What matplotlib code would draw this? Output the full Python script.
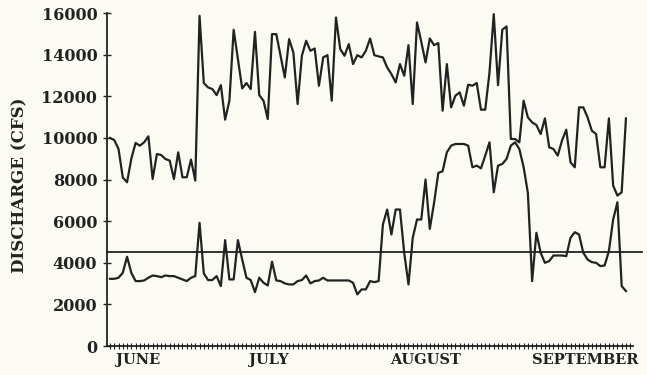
import matplotlib.pyplot as plt
import numpy as np

# daily discharge, June 1 - September 30 (cfs)
upper_flow = [
    10000, 9900, 9470, 8100, 7870, 9000, 9760, 9630, 9790, 10080,
    8030, 9230, 9180, 8990, 8910, 8030, 9310, 8110, 8110, 8960,
    7950, 15870, 12640, 12430, 12350, 12060, 12540, 10880, 11790, 15200,
    13790, 12380, 12640, 12350, 15100, 12060, 11790, 10910, 14990, 14990,
    13950, 12910, 14750, 14110, 11630, 13950, 14670, 14190, 14300, 12510,
    13870, 13980, 11790, 15790, 14270, 13950, 14510, 13550, 13980, 13870,
    14190, 14780, 13980, 13920, 13870, 13390, 13070, 12670, 13550, 12990,
    14460, 11630, 15550, 14620, 13630, 14780, 14460, 14560, 11310, 13550,
    11470, 12030, 12190, 11550, 12560, 12510, 12640, 11360, 11360, 13150,
    15950, 12540, 15200, 15360, 9950, 9950, 9790, 11790, 10990, 10750,
    10620, 10190, 10940, 9550, 9470, 9150, 9870, 10400, 8830, 8590,
    11470, 11470, 10990, 10350, 10190, 8590, 8590, 10940, 7710, 7230,
    7390, 10940,
]
lower_flow = [
    3230, 3230, 3280, 3520, 4290, 3520, 3120, 3120, 3150, 3280,
    3390, 3360, 3310, 3390, 3360, 3360, 3280, 3200, 3120, 3280,
    3360, 5920, 3490, 3170, 3170, 3360, 2880, 5090, 3200, 3200,
    5090, 4160, 3280, 3170, 2590, 3280, 3040, 2910, 4050, 3150,
    3120, 3010, 2960, 2960, 3120, 3170, 3390, 3010, 3120, 3150,
    3280, 3150, 3150, 3150, 3150, 3150, 3150, 3040, 2480, 2720,
    2720, 3120, 3070, 3120, 5840, 6560, 5360, 6560, 6560, 4480,
    2960, 5200, 6080, 6080, 8000, 5630, 6880, 8320, 8400, 9310,
    9630, 9710, 9710, 9710, 9630, 8590, 8670, 8540, 9150, 9790,
    7390, 8670, 8750, 8990, 9630, 9790, 9470, 8600, 7360, 3120,
    5440, 4480, 4000, 4080, 4350, 4350, 4350, 4320, 5200, 5470,
    5360, 4480, 4160, 4030, 4000, 3840, 3870, 4560, 6080, 6910,
    2880, 2640,
]
threshold = 4500
months = ["JUNE", "JULY", "AUGUST", "SEPTEMBER"]
month_pos = [6.6, 37.3, 73.9, 111.5]

days = np.arange(len(upper_flow))
ink = "#222222"
paper = "#fbfbf4"
serif = {"family": "DejaVu Serif", "weight": "bold"}

fig = plt.figure(figsize=(6.47, 3.75), dpi=100, facecolor=paper)
ax = fig.add_axes([0.1654, 0.0773, 0.8126, 0.8877], facecolor=paper)

ax.plot(days, upper_flow, color=ink, lw=1.6)
ax.plot(days, lower_flow, color=ink, lw=1.6)
ax.plot([-0.7, 124.7], [threshold, threshold], color=ink, lw=1.3, clip_on=False)

ax.set_xlim(-0.7, 122.6)
ax.set_ylim(0, 16000)
ax.set_yticks(np.arange(0, 16001, 2000))
ax.set_yticklabels([str(v) for v in range(0, 16001, 2000)], fontdict=serif, fontsize=11.5)
ax.set_xticks(month_pos)
ax.set_xticklabels(months, fontdict=serif, fontsize=10.5)
ax.set_xticks(np.arange(0, 123), minor=True)

ax.tick_params(axis="x", which="major", length=0, pad=5, colors=ink)
ax.tick_params(axis="x", which="minor", direction="inout", length=4, width=0.8, color=ink)
ax.tick_params(axis="y", direction="inout", length=6, width=1, pad=4, colors=ink)

for side in ["top", "right"]:
    ax.spines[side].set_visible(False)
for side in ["left", "bottom"]:
    ax.spines[side].set_color(ink)
    ax.spines[side].set_linewidth(1.3)

fig.text(0.031, 0.507, "DISCHARGE (CFS)", rotation=90, ha="center", va="center",
         color=ink, fontsize=12, **serif)

fig.savefig("out.png", dpi=100, facecolor=paper)
